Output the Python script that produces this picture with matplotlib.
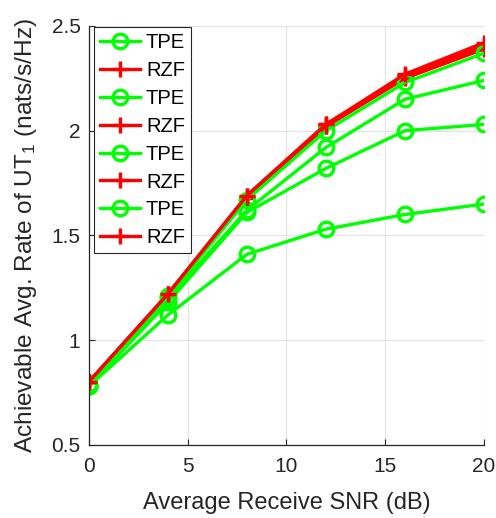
import matplotlib
matplotlib.use("Agg")
import matplotlib.pyplot as plt

plt.rcParams['font.family'] = ['Liberation Sans', 'DejaVu Sans']
plt.rcParams['mathtext.fontset'] = 'custom'
plt.rcParams['mathtext.rm'] = 'Liberation Sans'
plt.rcParams['mathtext.it'] = 'Liberation Sans'

snr = [0, 4, 8, 12, 16, 20]

# TPE curves (green, circles)
tpe_1 = [0.79, 1.21, 1.67, 2.00, 2.23, 2.37]
tpe_2 = [0.78, 1.20, 1.62, 1.92, 2.15, 2.24]
tpe_3 = [0.78, 1.18, 1.61, 1.82, 2.00, 2.03]
tpe_4 = [0.78, 1.12, 1.41, 1.53, 1.60, 1.65]

# RZF curves (red, plus) - almost on top of each other
rzf_1 = [0.80, 1.22, 1.69, 2.03, 2.27, 2.42]
rzf_2 = [0.80, 1.22, 1.69, 2.03, 2.26, 2.41]
rzf_3 = [0.80, 1.22, 1.68, 2.02, 2.26, 2.40]
rzf_4 = [0.80, 1.21, 1.68, 2.02, 2.25, 2.39]

tpe_all = [tpe_4, tpe_3, tpe_2, tpe_1]
rzf_all = [rzf_4, rzf_3, rzf_2, rzf_1]

fig = plt.figure(figsize=(4.96, 5.18), dpi=100)
ax = fig.add_axes([0.179, 0.141, 0.797, 0.809])

for t, r in zip(tpe_all, rzf_all):
    ax.plot(snr, t, color=(0, 1, 0), lw=2.4, marker='o', ms=10.5,
            mfc='none', mew=2.4, label='TPE')
    ax.plot(snr, r, color=(1, 0, 0), lw=2.4, marker='+', ms=11,
            mew=2.4, label='RZF')

ax.set_xlim(0, 20)
ax.set_ylim(0.5, 2.5)
ax.set_xticks([0, 5, 10, 15, 20])
ax.set_yticks([0.5, 1, 1.5, 2, 2.5])
ax.set_yticklabels(['0.5', '1', '1.5', '2', '2.5'])
ax.grid(True, color='#e3e3e3', lw=0.9)
ax.set_axisbelow(True)
for s in ['top', 'right']:
    ax.spines[s].set_visible(False)
for s in ['left', 'bottom']:
    ax.spines[s].set_color('#262626')
    ax.spines[s].set_linewidth(0.9)
ax.tick_params(direction='in', labelsize=15, colors='#262626', length=4)
ax.tick_params(axis='x', pad=9)
ax.tick_params(axis='y', pad=6)

ax.set_xlabel('Average Receive SNR (dB)', fontsize=17, color='#262626',
              labelpad=11)
ax.set_ylabel(r'Achievable Avg. Rate of UT$_1$ (nats/s/Hz)', fontsize=17.6,
              color='#262626', labelpad=9)

leg = ax.legend(loc='upper left', fontsize=14.5, handlelength=2.0,
                fancybox=False, edgecolor='#262626', borderpad=0.3,
                labelspacing=0.44, handletextpad=0.3,
                bbox_to_anchor=(0.012, 0.997), borderaxespad=0,
                framealpha=1)
leg.get_frame().set_linewidth(0.8)

fig.savefig('out.png', dpi=100)
